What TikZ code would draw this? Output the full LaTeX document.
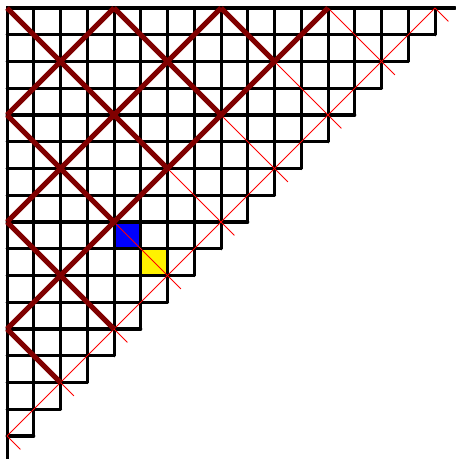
\documentclass[tikz,border=0pt]{standalone}
\definecolor{wallred}{RGB}{128,0,0}
\begin{document}
\begin{tikzpicture}[x=0.5cm,y=-0.5cm,gridline/.style={line width=1.6pt,line cap=round},thinred/.style={red,line width=0.5pt},thickred/.style={wallred,line width=2.8pt}]
\useasboundingbox (-0.262,-0.299) rectangle (16.748,16.86);
\fill[blue] (4,8) rectangle (5,9); \fill[yellow] (5,9) rectangle (6,10);
\foreach \i in {1,...,16} {\draw[gridline] (0,\i)--({17-\i},\i); \draw[gridline] (\i,0)--(\i,{17-\i});}
\draw[gridline] (16.75,0)--(0,0)--(0,16.86);
\foreach \v in {-4,...,4} \draw[thinred] ({max(4*\v,0)},{max(-4*\v,0)})--({8.5+2*\v},{8.5-2*\v});
\draw[thinred] (16,0)--(0,16);
\foreach \u in {1,2,3} \draw[thickred] (4*\u,0)--(0,4*\u);
\foreach \v in {-1,...,2} \draw[thickred] ({max(4*\v,0)},{max(-4*\v,0)})--({6+2*\v},{6-2*\v});
\foreach \v in {-3,-2} \draw[thickred] (0,-4*\v)--({8+2*\v},{8-2*\v});
\end{tikzpicture}
\end{document}
